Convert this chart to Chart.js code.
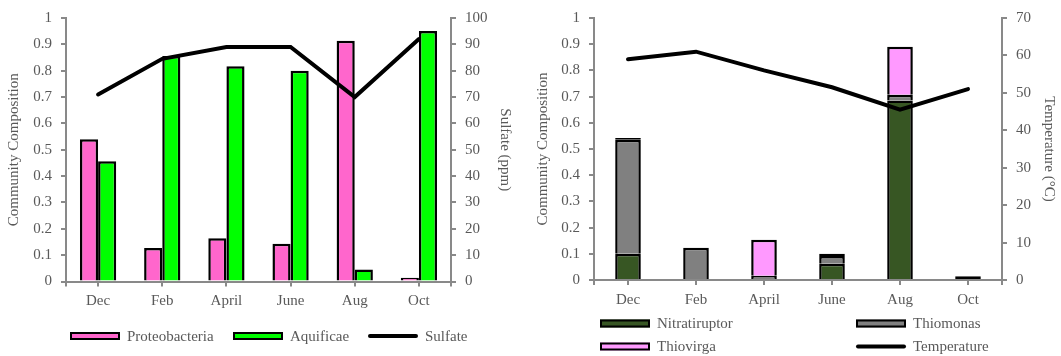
<!DOCTYPE html>
<html><head><meta charset="utf-8">
<script src="https://cdn.jsdelivr.net/npm/chart.js@4.4.1/dist/chart.umd.min.js"></script>
<style>
html,body{margin:0;padding:0;background:#fff;}
#c1{position:absolute;left:0;top:0;}
#c2{position:absolute;left:530px;top:0;}
</style></head><body>
<canvas id="c1" width="530" height="356"></canvas>
<canvas id="c2" width="531" height="356"></canvas>
<script>
// ---- data ----
const months = ['Dec','Feb','April','June','Aug','Oct'];
const proteobacteria = [0.54, 0.127, 0.164, 0.143, 0.914, 0.014];
const aquificae      = [0.456, 0.856, 0.817, 0.80, 0.046, 0.951];
const sulfate        = [71, 84.5, 89, 89, 70, 92];
const nitratiruptor  = [0.10, 0, 0, 0.062, 0.685, 0];
const thiomonas      = [0.435, 0.123, 0.016, 0.03, 0.022, 0.014];
const thiovirga      = [0.007, 0, 0.138, 0.008, 0.183, 0];
const temperature    = [59, 61, 56, 51.5, 45.5, 51];
const compTicks    = ['0','0.1','0.2','0.3','0.4','0.5','0.6','0.7','0.8','0.9','1'];
const sulfateTicks = ['0','10','20','30','40','50','60','70','80','90','100'];
const tempTicks    = ['0','10','20','30','40','50','60','70'];

// ---- style ----
const FONT = "'Liberation Serif', 'Times New Roman', serif";
const TXT = '#595959';
const AX = '#898989';
const BW = 2.5;
Chart.defaults.font.family = FONT;
Chart.defaults.font.size = 15;
Chart.defaults.color = TXT;

const gridLegend = {
  id: 'gridLegend',
  afterDraw(chart, args, opts) {
    const ctx = chart.ctx;
    ctx.save();
    // end tick marks of the category axis
    const a = chart.chartArea;
    ctx.strokeStyle = AX;
    ctx.lineWidth = 2;
    ctx.beginPath();
    ctx.moveTo(a.left, a.bottom); ctx.lineTo(a.left, a.bottom + 5);
    ctx.moveTo(a.right, a.bottom); ctx.lineTo(a.right, a.bottom + 5);
    ctx.stroke();
    ctx.font = '15px ' + FONT;
    ctx.textBaseline = 'middle';
    ctx.textAlign = 'left';
    opts.items.forEach(it => {
      const ds = chart.data.datasets.find(d => d.label === it.label);
      const bw = 50, bh = 8;
      if (ds.type === 'line') {
        ctx.strokeStyle = '#000';
        ctx.lineWidth = 4;
        ctx.lineCap = 'round';
        ctx.beginPath();
        ctx.moveTo(it.x + 2, it.y);
        ctx.lineTo(it.x + bw - 2, it.y);
        ctx.stroke();
      } else {
        ctx.fillStyle = ds.backgroundColor;
        ctx.fillRect(it.x, it.y - bh / 2, bw, bh);
        ctx.strokeStyle = '#000';
        ctx.lineWidth = 2;
        ctx.strokeRect(it.x + 1, it.y - bh / 2 + 1, bw - 2, bh - 2);
      }
      ctx.fillStyle = TXT;
      ctx.fillText(it.label, it.x + bw + 7, it.y + 1);
    });
    ctx.restore();
  }
};

function yAxis(pos, labels, max, step, width, titleText, titlePad, extra) {
  return Object.assign({
    position: pos, min: 0, max: max,
    grid: { drawOnChartArea: false, color: AX, lineWidth: 2, tickLength: 5 },
    border: { display: true, color: AX, width: 2 },
    ticks: { stepSize: step, padding: 9, color: TXT, font: { size: 15 },
      callback: (v, i) => labels[i] },
    title: { display: true, text: titleText, color: TXT, font: { size: 15 }, padding: { top: titlePad, bottom: 0 } },
    afterFit(s) { s.width = width; }
  }, extra || {});
}

function xAxis(height, stacked) {
  return {
    stacked: stacked,
    grid: { drawOnChartArea: false, offset: false, color: AX, lineWidth: 2, tickLength: 5 },
    border: { display: true, color: AX, width: 2 },
    ticks: { padding: 6, color: TXT, font: { size: 15 } },
    afterFit(s) { s.height = height; }
  };
}

function barSet(label, data, color, pct, thin) {
  return { label: label, data: data, backgroundColor: color, borderColor: '#000', borderWidth: BW,
    borderSkipped: c => (Math.abs(c.raw) < thin ? false : 'start'),
    yAxisID: 'y', order: 1, categoryPercentage: pct, barPercentage: 1 };
}
function lineSet(label, data) {
  return { type: 'line', label: label, data: data, yAxisID: 'y2', borderColor: '#000', backgroundColor: '#000',
    borderWidth: 4, pointRadius: 0, tension: 0, order: 0, borderCapStyle: 'round', borderJoinStyle: 'miter' };
}

new Chart(document.getElementById('c1'), {
  type: 'bar',
  data: {
    labels: months,
    datasets: [
      barSet('Proteobacteria', proteobacteria, '#FF66CC', 0.565, 0.005),
      barSet('Aquificae', aquificae, '#00FF00', 0.565, 0.005),
      lineSet('Sulfate', sulfate)
    ]
  },
  options: {
    responsive: false, animation: false,
    layout: { padding: { top: 15, left: 0, right: 0, bottom: 0 } },
    plugins: {
      legend: { display: false }, tooltip: { enabled: false },
      gridLegend: { items: [
        { label: 'Proteobacteria', x: 70, y: 336 },
        { label: 'Aquificae', x: 233, y: 336 },
        { label: 'Sulfate', x: 368, y: 336 }
      ] }
    },
    scales: {
      x: xAxis(74.5, false),
      y: yAxis('left', compTicks, 1, 0.1, 66, 'Community Composition', 5),
      y2: yAxis('right', sulfateTicks, 100, 10, 79, 'Sulfate (ppm)', 16)
    }
  },
  plugins: [gridLegend]
});

new Chart(document.getElementById('c2'), {
  type: 'bar',
  data: {
    labels: months,
    datasets: [
      barSet('Nitratiruptor', nitratiruptor, '#375623', 0.377, 0.016),
      barSet('Thiomonas', thiomonas, '#808080', 0.377, 0.016),
      barSet('Thiovirga', thiovirga, '#FF99FF', 0.377, 0.016),
      lineSet('Temperature', temperature)
    ]
  },
  options: {
    responsive: false, animation: false,
    layout: { padding: { top: 16.7, left: 0, right: 0, bottom: 0 } },
    plugins: {
      legend: { display: false }, tooltip: { enabled: false },
      gridLegend: { items: [
        { label: 'Nitratiruptor', x: 70, y: 323.5 },
        { label: 'Thiomonas', x: 326, y: 323.5 },
        { label: 'Thiovirga', x: 70, y: 346.5 },
        { label: 'Temperature', x: 326, y: 346.5 }
      ] }
    },
    scales: {
      x: xAxis(76, true),
      y: yAxis('left', compTicks, 1, 0.1, 64, 'Community Composition', 4, { stacked: true }),
      y2: yAxis('right', tempTicks, 70, 10, 59, 'Temperature (°C)', 3, { stacked: false })
    }
  },
  plugins: [gridLegend]
});
</script>
</body></html>
